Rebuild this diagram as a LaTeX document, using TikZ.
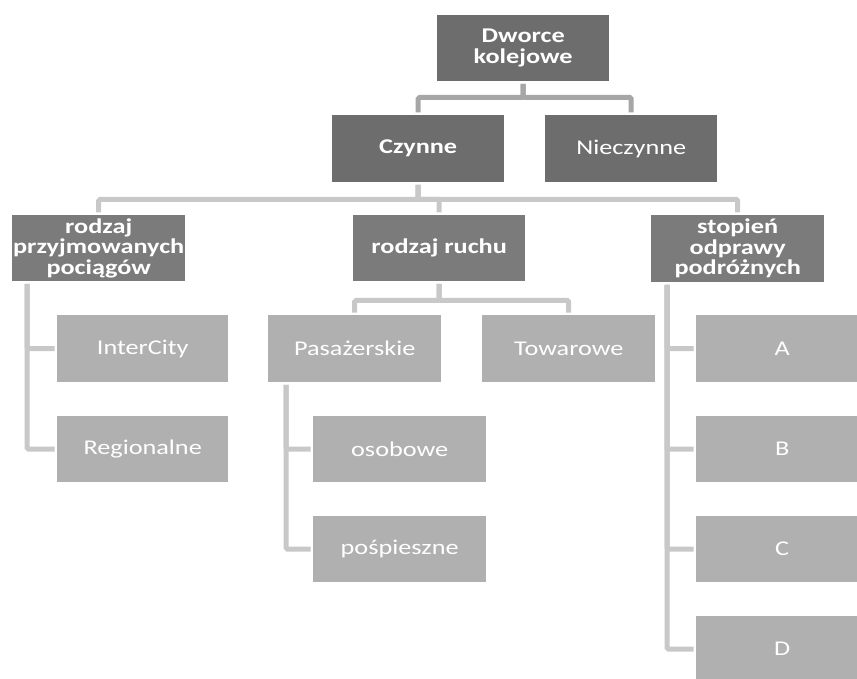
\documentclass[tikz,border=0pt]{standalone}
\usepackage{fontspec}
\setmainfont{Carlito}[FakeStretch=1.25]
\definecolor{topfill}{HTML}{6D6D6D}
\definecolor{headfill}{HTML}{7B7B7B}
\definecolor{leaffill}{HTML}{B0B0B0}
\definecolor{linetop}{HTML}{A6A6A6}
\definecolor{linelow}{HTML}{C8C8C8}
\tikzset{
  box/.style={rectangle, inner sep=0pt, anchor=north west, text=white,
    align=center, font=\fontsize{21}{20.5}\selectfont},
  darkbox/.style={box, fill=topfill},
  boldbox/.style={darkbox, font=\fontsize{21}{20.5}\selectfont\bfseries},
  headbox/.style={box, fill=headfill, font=\fontsize{21}{20.5}\selectfont\bfseries},
  leafbox/.style={box, fill=leaffill},
  link/.style={line width=5pt, line cap=rect, rounded corners=1.5pt,
    shorten <=5pt, shorten >=5pt},
  toplink/.style={link, draw=linetop},
  lowlink/.style={link, draw=linelow}
}
\begin{document}
\begin{tikzpicture}[x=1pt, y=-1pt]
\clip (0,0) rectangle (857,679);
\fill[white] (0,0) rectangle (857,679);

% root and first level
\node[boldbox, minimum width=172pt, minimum height=66pt] (root) at (437,15) {Dworce\\kolejowe};
\node[boldbox, minimum width=172pt, minimum height=67pt] (czynne) at (332,115) {Czynne};
\node[darkbox, minimum width=172pt, minimum height=67pt] (nieczynne) at (545,115) {Nieczynne};

% second level
\node[headbox, minimum width=173pt, minimum height=66pt] (rodzajp) at (12,215)
  {rodzaj\\przyjmowanych\\pociągów};
\node[headbox, minimum width=172pt, minimum height=66pt] (ruch) at (353,215) {rodzaj ruchu};
\node[headbox, minimum width=173pt, minimum height=67pt] (stopien) at (651,215)
  {stopień\\odprawy\\podróżnych};

% types of trains
\node[leafbox, minimum width=171pt, minimum height=67pt] (intercity) at (57,315) {InterCity};
\node[leafbox, minimum width=171pt, minimum height=66pt] (regionalne) at (57,416) {Regionalne};

% kind of traffic
\node[leafbox, minimum width=173pt, minimum height=67pt] (pasazerskie) at (268,315) {Pasażerskie};
\node[leafbox, minimum width=173pt, minimum height=67pt] (towarowe) at (482,315) {Towarowe};
\node[leafbox, minimum width=173pt, minimum height=66pt] (osobowe) at (313,416) {osobowe};
\node[leafbox, minimum width=173pt, minimum height=66pt] (pospieszne) at (313,516) {pośpieszne};

% passenger handling classes
\node[leafbox, minimum width=172pt, minimum height=67pt] (A) at (696,315) {A};
\node[leafbox, minimum width=172pt, minimum height=66pt] (B) at (696,416) {B};
\node[leafbox, minimum width=172pt, minimum height=66pt] (C) at (696,516) {C};
\node[leafbox, minimum width=172pt, minimum height=66pt] (D) at (696,616) {D};

% connectors
\draw[toplink] (root.south) -- ++(0,16) -| (czynne.north);
\draw[toplink] (root.south) -- ++(0,16) -| (nieczynne.north);

\draw[lowlink] (czynne.south) -- ++(0,17) -| (rodzajp.north);
\draw[lowlink] (czynne.south) -- ++(0,17) -| (ruch.north);
\draw[lowlink] (czynne.south) -- ++(0,17) -| (stopien.north);

\draw[lowlink] ([xshift=15pt]rodzajp.south west) |- (intercity.west);
\draw[lowlink] ([xshift=15pt]rodzajp.south west) |- (regionalne.west);

\draw[lowlink] (ruch.south) -- ++(0,19) -| (pasazerskie.north);
\draw[lowlink] (ruch.south) -- ++(0,19) -| (towarowe.north);

\draw[lowlink] ([xshift=18pt]pasazerskie.south west) |- (osobowe.west);
\draw[lowlink] ([xshift=18pt]pasazerskie.south west) |- (pospieszne.west);

\draw[lowlink] ([xshift=16pt]stopien.south west) |- (A.west);
\draw[lowlink] ([xshift=16pt]stopien.south west) |- (B.west);
\draw[lowlink] ([xshift=16pt]stopien.south west) |- (C.west);
\draw[lowlink] ([xshift=16pt]stopien.south west) |- (D.west);
\end{tikzpicture}
\end{document}
